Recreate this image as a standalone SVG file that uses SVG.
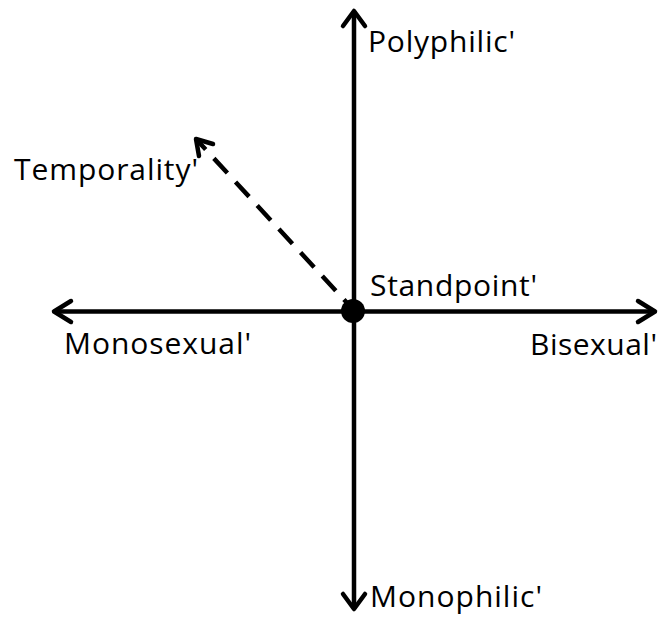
<svg xmlns="http://www.w3.org/2000/svg" width="659" height="620" viewBox="0 0 659 620">
<style>
.ax{stroke:#000;stroke-width:4.5;fill:none}
.ah{stroke:#000;stroke-width:4.5;fill:none;stroke-linecap:round;stroke-linejoin:round}
.lbl{font-family:"Open Sans","Liberation Sans",sans-serif;font-size:30px;fill:#000}
</style>
<rect width="659" height="620" fill="#fff"/>
<g id="connectors">
<line class="ax" x1="354" y1="11" x2="354" y2="609"/>
<polyline class="ah" points="343,26 354,11 365,26"/>
<polyline class="ah" points="343,594 354,609 365,594"/>
<line class="ax" x1="54" y1="311.5" x2="655" y2="311.5"/>
<polyline class="ah" points="71,301 54,311.5 71,322"/>
<polyline class="ah" points="638,301 655,311.5 638,322"/>
<line class="ax" x1="348" y1="304" x2="196" y2="139" stroke-dasharray="20 12" stroke-dashoffset="14"/>
<polyline class="ah" points="199,156 196,139 213,144"/>
</g>
<g id="standpoint">
<circle cx="353" cy="311" r="12" fill="#000"/>
<text class="lbl" x="370" y="296" textLength="167">Standpoint'</text>
</g>
<g id="polyphilic"><text class="lbl" x="368" y="52" textLength="147">Polyphilic'</text></g>
<g id="monophilic"><text class="lbl" x="370" y="607" textLength="172">Monophilic'</text></g>
<g id="monosexual"><text class="lbl" x="64" y="354" textLength="187">Monosexual'</text></g>
<g id="bisexual"><text class="lbl" x="530" y="355" textLength="127">Bisexual'</text></g>
<g id="temporality"><text class="lbl" x="14" y="180" textLength="184">Temporality'</text></g>
</svg>
